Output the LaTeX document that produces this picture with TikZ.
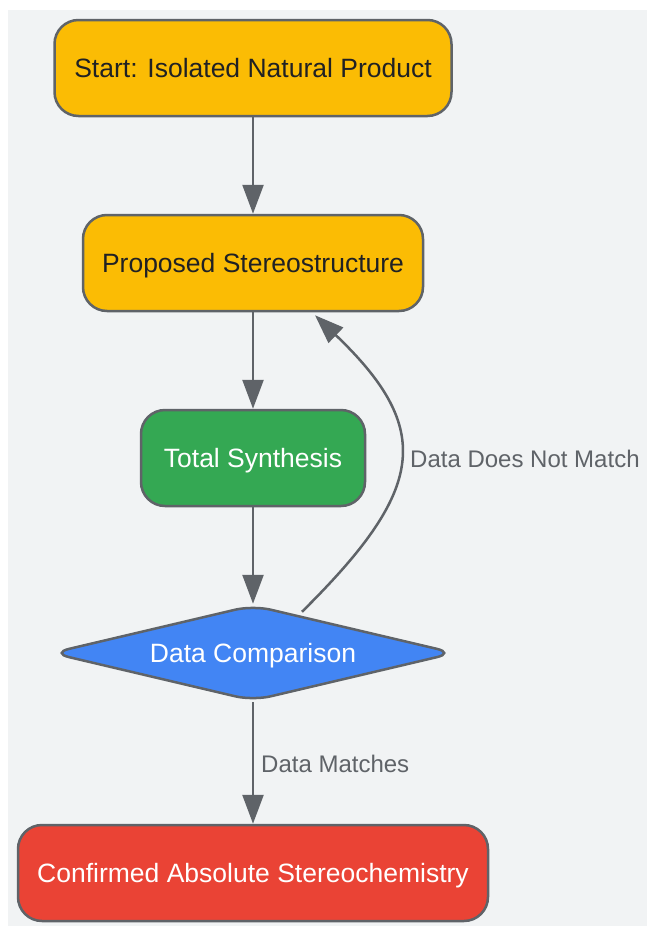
\documentclass[tikz,border=0pt]{standalone}
\usepackage{fontspec}
\setmainfont{Liberation Sans}
\usetikzlibrary{shapes.geometric,arrows.meta}

\definecolor{canvas}{HTML}{F1F3F4}
\definecolor{linegray}{HTML}{5F6368}
\definecolor{gyellow}{HTML}{FBBC04}
\definecolor{ggreen}{HTML}{34A853}
\definecolor{gblue}{HTML}{4285F4}
\definecolor{gred}{HTML}{EA4335}
\definecolor{darktext}{HTML}{202124}

\tikzset{
  stepbox/.style={draw=linegray, line width=2.5pt, rounded corners=24pt,
    minimum height=96pt, inner sep=0pt, text height=18.5pt, text depth=0pt,
    font=\fontsize{26.5}{30}\selectfont},
  decision/.style={diamond, draw=linegray, line width=2.5pt, rounded corners=18pt,
    aspect=4.2, minimum width=404pt, minimum height=96pt, inner sep=0pt,
    text height=18.5pt, text depth=0pt, font=\fontsize{26.5}{30}\selectfont},
  flow/.style={draw=linegray, line width=2.5pt, -{Triangle[length=29pt,width=21pt]}},
  edgetext/.style={text=linegray, anchor=west, inner sep=0pt,
    font=\fontsize{24}{28}\selectfont},
}

\begin{document}
\begin{tikzpicture}[x=1pt, y=-1pt]
        \useasboundingbox (0,0) rectangle (647,926);
        \fill[canvas] (8,10) rectangle (647,926);

        % main chain
        \node[stepbox, fill=gyellow, text=darktext, minimum width=397pt] (start) at (253,68) {Start: Isolated Natural Product};
        \node[stepbox, fill=gyellow, text=darktext, minimum width=340pt] (ps) at (253,263) {Proposed Stereostructure};
        \node[stepbox, fill=ggreen, text=white, minimum width=224pt] (synth) at (253,458) {Total Synthesis};
        \node[decision, fill=gblue, text=white] (dc) at (253,653) {Data Comparison};
        \node[stepbox, fill=gred, text=white, minimum width=470pt] (conf) at (253,873) {Confirmed Absolute Stereochemistry};

        \draw[flow] (start) -- (ps);
        \draw[flow] (ps) -- (synth);
        \draw[flow] (synth) -- (dc);
        \draw[flow] (dc) -- (conf);
        \node[edgetext] (matchlbl) at (261,764) {Data Matches};

        % back edge
        \draw[flow] ([shift={(49,8)}]dc.north) .. controls (425,490) and (435,430) .. ([shift={(62,3)}]ps.south);
        \node[edgetext] (nomatchlbl) at (410,459) {Data Does Not Match};
\end{tikzpicture}
\end{document}
